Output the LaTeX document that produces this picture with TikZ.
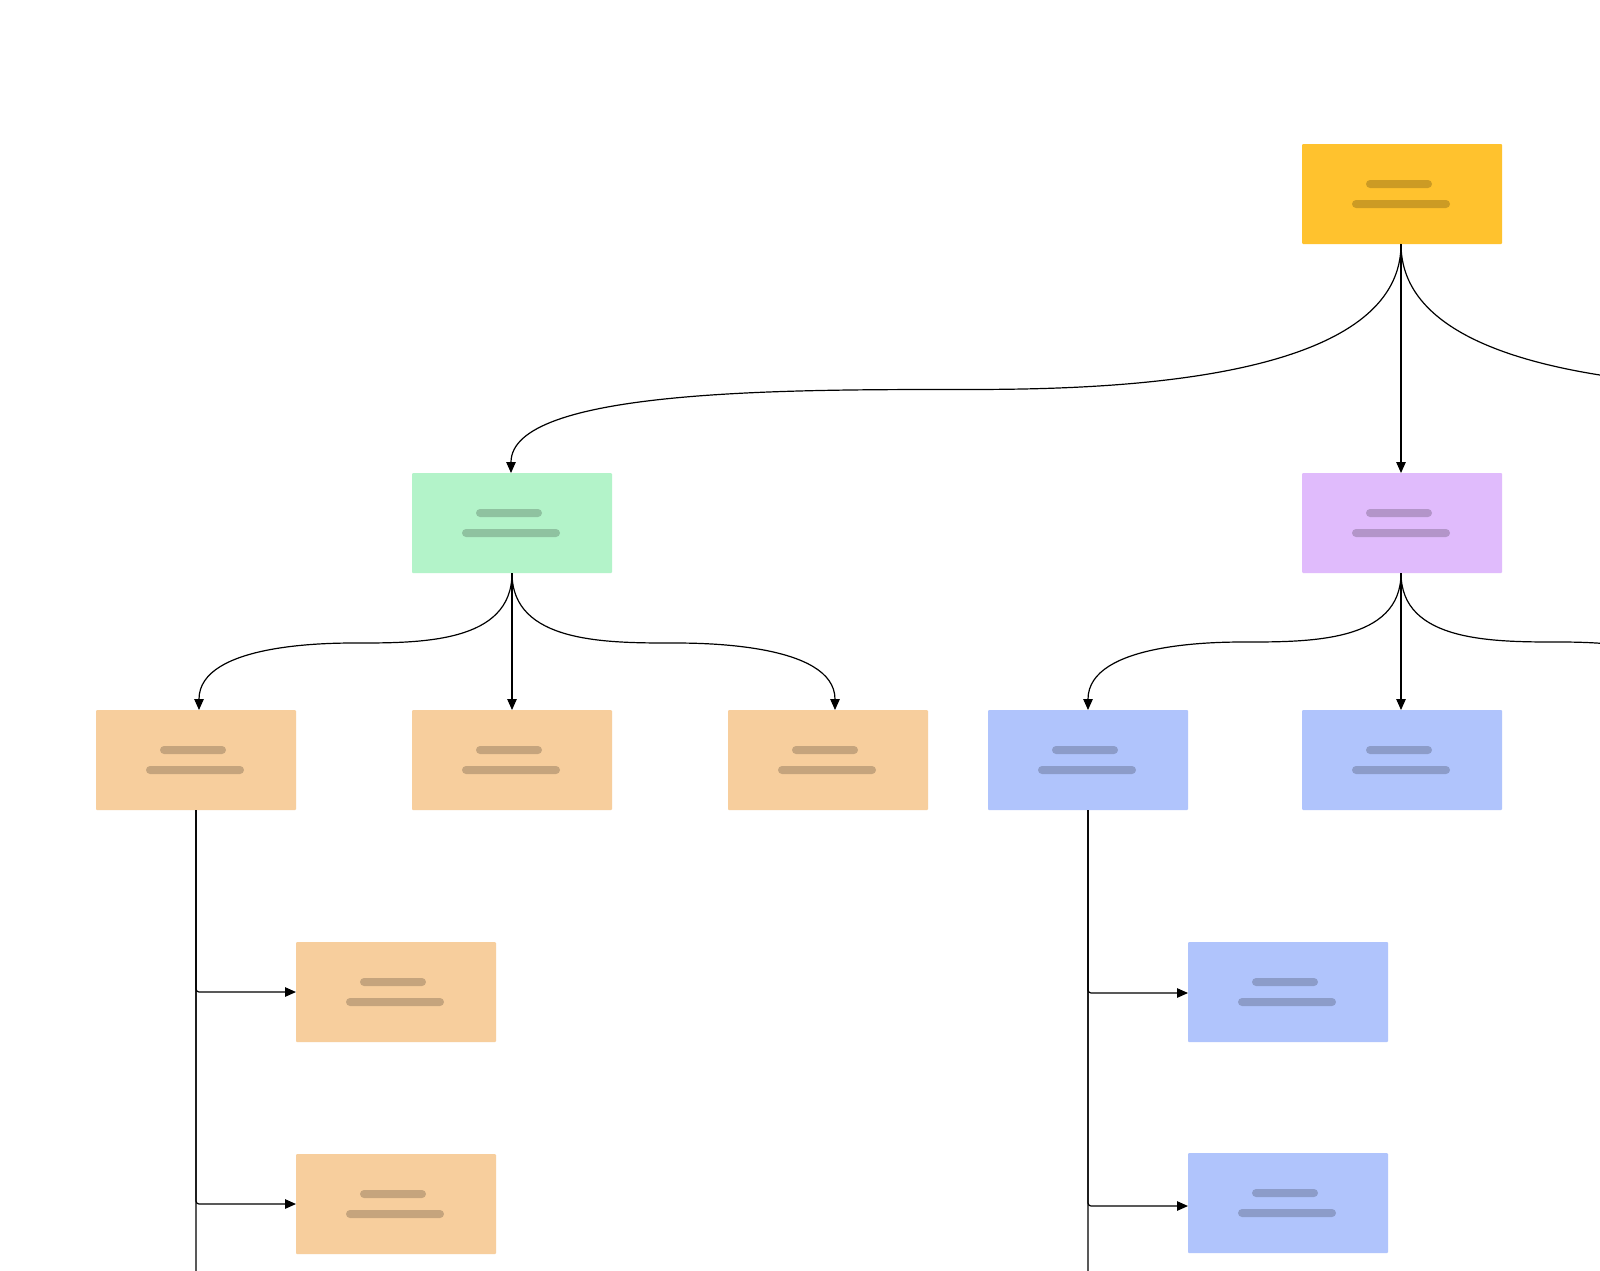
\documentclass[tikz,border=0pt]{standalone}
\usetikzlibrary{arrows.meta,calc}
\definecolor{cyellow}{HTML}{FFC22E}
\definecolor{cgreen}{HTML}{B3F3C9}
\definecolor{cpurple}{HTML}{E0BBFC}
\definecolor{corange}{HTML}{F7CE9D}
\definecolor{cblue}{HTML}{B0C4FC}
\tikzset{
  box/.style={draw=none, minimum width=200pt, minimum height=100pt, inner sep=0pt, outer sep=0pt, rounded corners=1pt},
  bar/.style={fill=black, fill opacity=0.2, rounded corners=4pt},
  edge/.style={draw=black, line width=1.2pt, -{Triangle[length=11pt,width=9.5pt]}},
  branch/.style={edge, rounded corners=3pt},
}
\newcommand\placebars[1]{%
  \fill[bar] ($(#1)+(-36,-14)$) rectangle ($(#1)+(30,-6)$);
  \fill[bar] ($(#1)+(-50,6)$) rectangle ($(#1)+(48,14)$);
}
% #1 source, #2 target, #3 level y, #4 shape near source half, #5 shape near target half
\newcommand\curveedge[5]{%
  \coordinate (bP0) at (#1);
  \coordinate (bP3) at (#2);
  \coordinate (bY) at (0,#3);
  \coordinate (bP1) at (bP0 |- bY);
  \coordinate (bP2) at (bP3 |- bY);
  \coordinate (bM) at ($(bP1)!0.5!(bP2)$);
  \draw[edge] (bP0) .. controls (bP1) and ($(bM)!#4!(bP1)$) .. (bM)
    .. controls ($(bM)!#5!(bP2)$) and (bP2) .. (bP3);
}
\begin{document}
\begin{tikzpicture}[x=1pt,y=-1pt]
\useasboundingbox (0,0) rectangle (1600,1270);
\clip (0,0) rectangle (1600,1270);
\fill[white] (0,0) rectangle (1600,1270);

% nodes
\node[box, fill=cyellow] (root) at (1402,194) {};
\node[box, fill=cgreen]  (g)    at (512,523) {};
\node[box, fill=cpurple] (p)    at (1402,523) {};
\node[box, fill=corange] (o1)   at (196,760) {};
\node[box, fill=corange] (o2)   at (512,760) {};
\node[box, fill=corange] (o3)   at (828,760) {};
\node[box, fill=cblue]   (b1)   at (1088,760) {};
\node[box, fill=cblue]   (b2)   at (1402,760) {};
\node[box, fill=corange] (oc1)  at (396,992) {};
\node[box, fill=corange] (oc2)  at (396,1204) {};
\node[box, fill=cblue]   (bc1)  at (1288,992) {};
\node[box, fill=cblue]   (bc2)  at (1288,1203) {};

\foreach \n in {root,g,p,o1,o2,o3,b1,b2,oc1,oc2,bc1,bc2}{\placebars{\n}}

% free ends beyond the visible area
\coordinate (offR)  at (2292,473);
\coordinate (offB)  at (1717,710);
\coordinate (offOc) at (396,1414);
\coordinate (offBc) at (1288,1414);
\coordinate (gin)   at ($(g.north)+(-1,0)$);
\coordinate (o1in)  at ($(o1.north)+(3,0)$);
\coordinate (o3in)  at ($(o3.north)+(7,0)$);
\coordinate (rs)    at ($(root.south)+(-1,0)$);
\coordinate (ps)    at ($(p.south)+(-1,0)$);

% connectors
\curveedge{rs}{gin}{389.5}{0.27}{0.39}
\curveedge{rs}{offR}{389.5}{0.27}{0.39}
\draw[edge] (rs) -- (rs |- p.north);

\curveedge{g.south}{o1in}{643}{0.42}{0.16}
\curveedge{g.south}{o3in}{643}{0.42}{0.16}
\draw[edge] (g.south) -- (o2.north);

\curveedge{ps}{b1.north}{642}{0.42}{0.16}
\curveedge{ps}{offB}{642}{0.42}{0.16}
\draw[edge] (ps) -- (ps |- b2.north);

\draw[branch] (o1.south) |- (oc1.west);
\draw[branch] (o1.south) |- (oc2.west);
\draw[branch] (o1.south) |- (offOc);

\draw[branch] (b1.south) |- ([yshift=-1pt]bc1.west);
\draw[branch] (b1.south) |- ([yshift=-3pt]bc2.west);
\draw[branch] (b1.south) |- (offBc);
\end{tikzpicture}
\end{document}
